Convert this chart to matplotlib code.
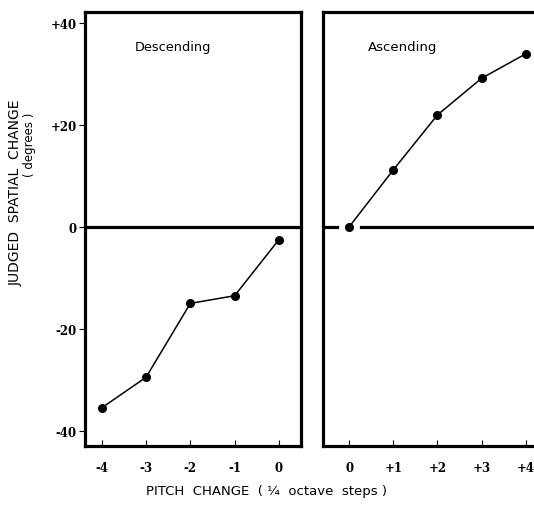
import matplotlib
matplotlib.use("Agg")
import matplotlib.pyplot as plt

# Data
desc_x = [-4, -3, -2, -1, 0]
desc_y = [-35.5, -29.5, -15.0, -13.5, -2.5]
asc_x = [0, 1, 2, 3, 4]
asc_y = [0.0, 11.2, 22.0, 29.2, 34.0]

desc_xticks = [-4, -3, -2, -1, 0]
desc_xticklabels = ["-4", "-3", "-2", "-1", "0"]
asc_xticks = [0, 1, 2, 3, 4]
asc_xticklabels = ["0", "+1", "+2", "+3", "+4"]
yticks = [40, 20, 0, -20, -40]
yticklabels = ["+40", "+20", "0", "-20", "-40"]

W, H = 534, 506
fig = plt.figure(figsize=(W / 100, H / 100), dpi=100)

def frac(x0, x1, ytop, ybot):
    return [x0 / W, 1 - ybot / H, (x1 - x0) / W, (ybot - ytop) / H]

axL = fig.add_axes(frac(85, 301, 13, 447))
axR = fig.add_axes(frac(323, 548, 13, 447))

ylim = (-43.0, 42.2)
tick_font = dict(family="DejaVu Serif", weight="bold", size=8.5)

for ax in (axL, axR):
    ax.set_ylim(*ylim)
    for s in ax.spines.values():
        s.set_linewidth(2.3)
        s.set_color("black")
    ax.axhline(0, color="black", lw=2.3, zorder=1)

axL.set_xlim(-4.38, 0.5)
axR.set_xlim(-0.59, 4.5)

# Left panel
axL.plot(desc_x, desc_y, color="black", lw=1.1, marker="o", ms=5.5, zorder=3, clip_on=False)
axL.set_xticks(desc_xticks)
axL.set_xticklabels(desc_xticklabels, **tick_font)
axL.set_yticks(yticks)
axL.set_yticklabels(yticklabels, **tick_font)
axL.tick_params(axis="x", direction="in", length=4, width=0.8, pad=11)
axL.tick_params(axis="y", direction="out", length=4, width=0.8, pad=2)
axL.text(0.23, 0.92, "Descending", transform=axL.transAxes, fontsize=9.3,
         family="DejaVu Sans", ha="left", va="center")

# Right panel
axR.plot([asc_x[0]], [asc_y[0]], marker="o", ms=14, color="white", mec="white", ls="none", zorder=2)
axR.plot(asc_x, asc_y, color="black", lw=1.1, marker="o", ms=5.5, zorder=3, clip_on=False)
axR.set_xticks(asc_xticks)
axR.set_xticklabels(asc_xticklabels, **tick_font)
axR.set_yticks([])
axR.tick_params(axis="x", direction="in", length=4, width=0.8, pad=11)
axR.text(0.2, 0.92, "Ascending", transform=axR.transAxes, fontsize=9.6,
         family="DejaVu Sans", ha="left", va="center")

# Axis labels
fig.text(266 / W, 1 - 492 / H, "PITCH  CHANGE  ( \u00bc  octave  steps )", fontsize=9.5,
         family="DejaVu Sans", ha="center", va="center")
fig.text(16 / W, 1 - 193 / H, "JUDGED  SPATIAL  CHANGE", fontsize=10, rotation=90,
         family="DejaVu Sans", ha="center", va="center")
fig.text(29 / W, 1 - 145 / H, "( degrees )", fontsize=8.5, rotation=90,
         family="DejaVu Sans", ha="center", va="center")

fig.savefig("out.png", dpi=100)
